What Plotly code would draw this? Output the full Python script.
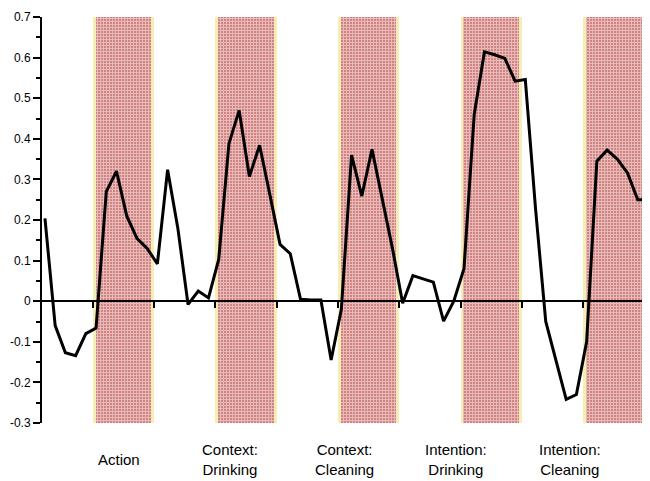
import plotly.graph_objects as go

# ---- data ----
values = [0.204, -0.06, -0.127, -0.134, -0.08, -0.066, 0.27, 0.32, 0.21, 0.155,
          0.13, 0.092, 0.324, 0.18, -0.008, 0.025, 0.008, 0.103, 0.388, 0.47,
          0.307, 0.384, 0.263, 0.14, 0.117, 0.005, 0.003, 0.003, -0.145, -0.02,
          0.36, 0.259, 0.374, 0.25, 0.13, -0.005, 0.063, 0.055, 0.047, -0.049,
          0.0, 0.08, 0.46, 0.614, 0.607, 0.598, 0.542, 0.546, 0.228, -0.05,
          -0.144, -0.242, -0.23, -0.1, 0.345, 0.372, 0.35, 0.316, 0.25, 0.25]
time_index = list(range(len(values)))

band_start = [4.67, 16.67, 28.67, 40.67, 52.67]
band_end = [10.67, 22.67, 34.67, 46.67, 58.67]
band_labels = ["Action", "Context:<br>Drinking", "Context:<br>Cleaning",
               "Intention:<br>Drinking", "Intention:<br>Cleaning"]
label_pos = [7.24, 18.1, 29.26, 40.2, 51.4]

y_ticks = [-0.3, -0.2, -0.1, 0, 0.1, 0.2, 0.3, 0.4, 0.5, 0.6, 0.7]
y_ticktext = ["-0.3", "-0.2", "-0.1", "0", "0.1", "0.2", "0.3", "0.4", "0.5", "0.6", "0.7"]

Y_MIN, Y_MAX = -0.3, 0.7

# ---- figure ----
centers = [(s + e) / 2 for s, e in zip(band_start, band_end)]
widths = [e - s for s, e in zip(band_start, band_end)]

fig = go.Figure()
# yellow edge (outer band)
fig.add_trace(go.Bar(
    x=centers, y=[Y_MAX - Y_MIN] * len(centers), base=[Y_MIN] * len(centers),
    width=widths, marker=dict(color="#f4eeb4", line=dict(width=0)),
    hoverinfo="skip", showlegend=False))
# dotted red fill (inner band)
fig.add_trace(go.Bar(
    x=centers, y=[Y_MAX - Y_MIN] * len(centers), base=[Y_MIN] * len(centers),
    width=[w - 0.55 for w in widths],
    marker=dict(color="#d27e7e", line=dict(width=0),
                pattern=dict(shape="+", fgcolor="#fdf8f8", bgcolor="#d27e7e",
                             size=3, solidity=0.6, fillmode="overlay")),
    hoverinfo="skip", showlegend=False))

fig.add_trace(go.Scatter(
    x=time_index, y=values, mode="lines",
    line=dict(color="black", width=3), showlegend=False))

for lx, txt in zip(label_pos, band_labels):
    fig.add_annotation(x=lx, xref="x", y=-0.091, yref="paper", text=txt,
                       showarrow=False, yanchor="middle", xanchor="center",
                       align="center",
                       font=dict(family="Liberation Sans", size=15, color="black"))

zero_pos = (0 - Y_MIN) / (Y_MAX - Y_MIN)
fig.update_layout(
    width=642, height=473,
    margin=dict(l=34, r=0, t=9, b=58),
    paper_bgcolor="white", plot_bgcolor="white",
    barmode="overlay", bargap=0,
    font=dict(family="Liberation Sans", size=12, color="black"),
    xaxis=dict(range=[-0.29, 59.2], anchor="free", position=zero_pos,
               showline=True, linecolor="black", linewidth=1.5,
               ticks="outside", ticklen=6, tickcolor="black", tickwidth=1.5,
               tickvals=band_start + band_end, showticklabels=False,
               showgrid=False, zeroline=False),
    yaxis=dict(range=[Y_MIN, Y_MAX], showline=True, linecolor="black", linewidth=2,
               ticks="outside", ticklen=7, tickwidth=2, tickcolor="black",
               tickvals=y_ticks, ticktext=y_ticktext,
               minor=dict(ticks="outside", ticklen=4, tickwidth=1.5,
                          tickcolor="black", dtick=0.05, showgrid=False),
               showgrid=False, zeroline=False,
               tickfont=dict(family="Liberation Sans", size=12, color="black")),
)

fig.write_html("out.html")
